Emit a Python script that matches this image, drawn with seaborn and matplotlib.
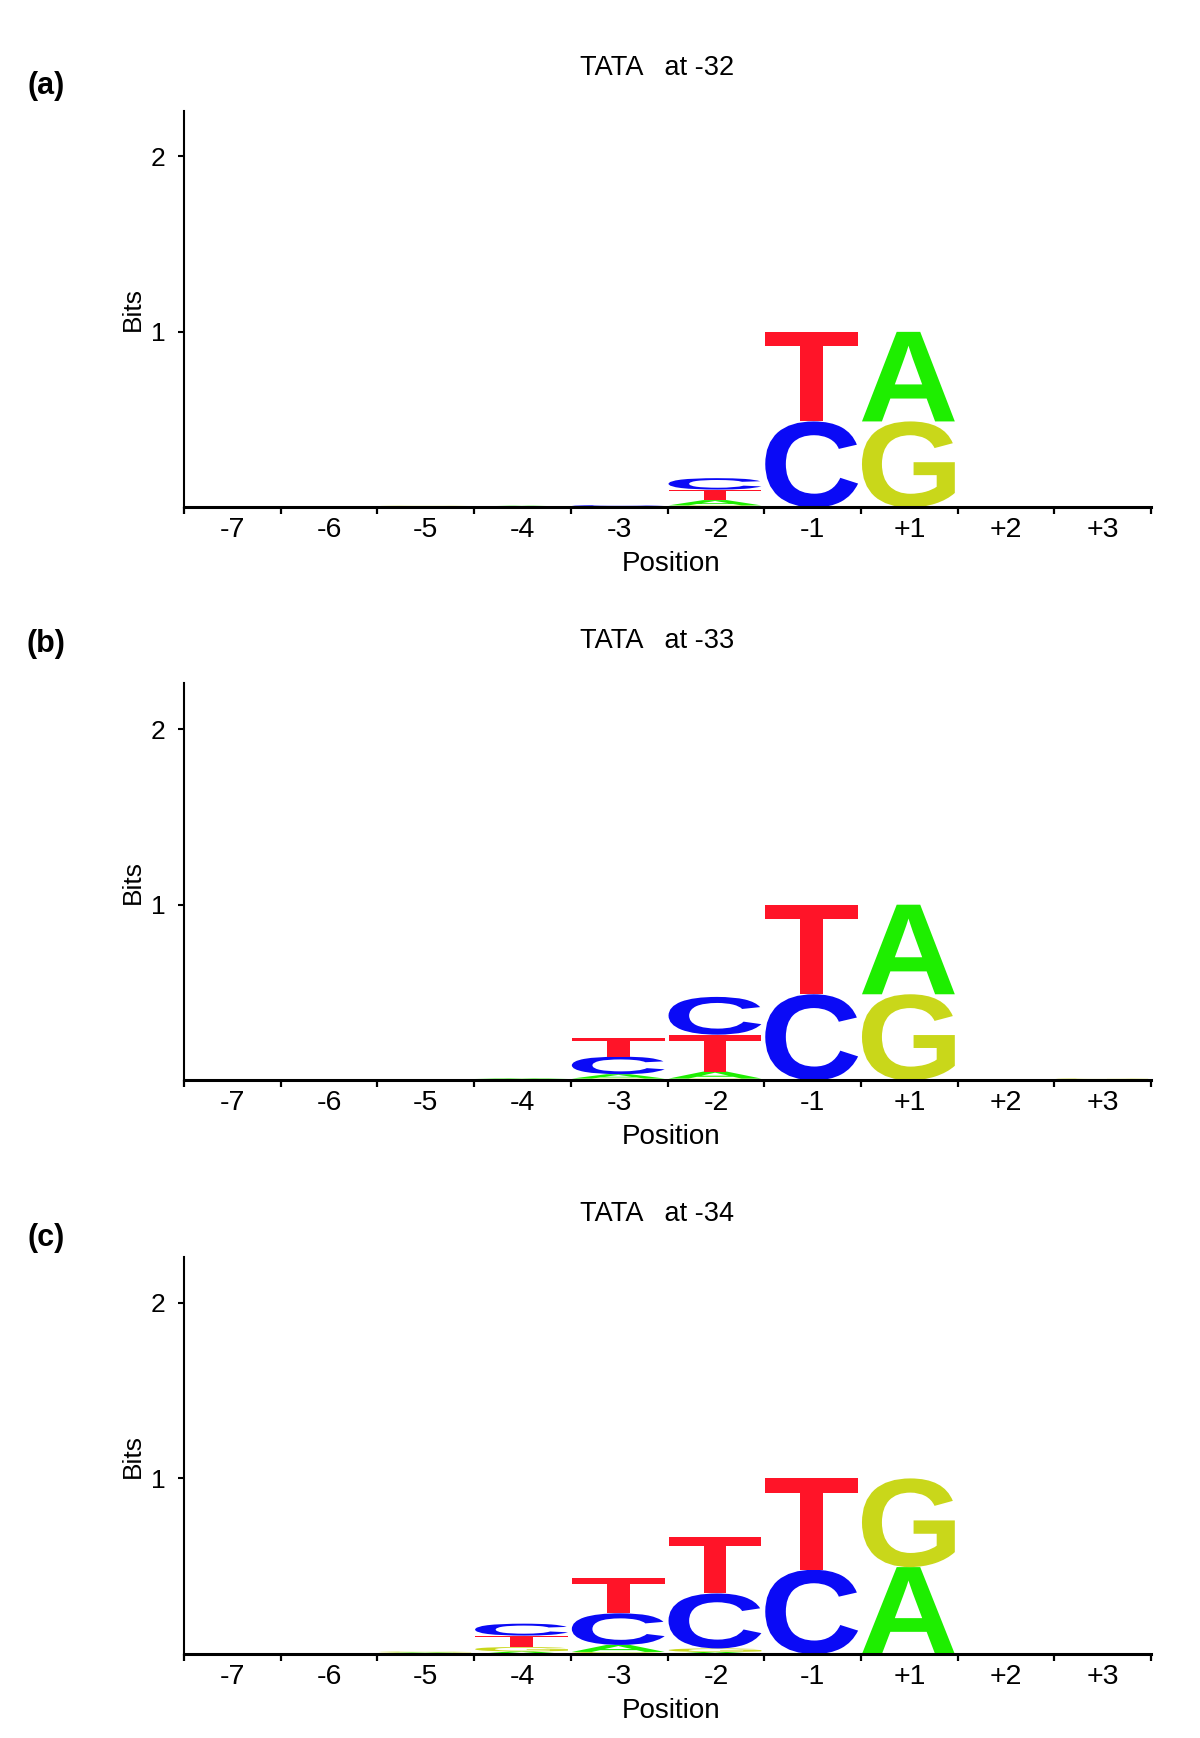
import numpy as np
import pandas as pd
import matplotlib
matplotlib.use("Agg")
import matplotlib.pyplot as plt
import seaborn as sns
from matplotlib.textpath import TextPath
from matplotlib.patches import PathPatch
from matplotlib.font_manager import FontProperties
from matplotlib.transforms import Affine2D

# positions along the promoter
positions = ["-7", "-6", "-5", "-4", "-3", "-2", "-1", "+1", "+2", "+3"]
titles = ["TATA   at -32", "TATA   at -33", "TATA   at -34"]
tags = ["(a)", "(b)", "(c)"]

# bits per base, panel (a)
a_A = [0.002, 0.002, 0.002, 0.004, 0.004, 0.030, 0.000, 0.510, 0.002, 0.002]
a_C = [0.002, 0.002, 0.002, 0.002, 0.005, 0.065, 0.490, 0.000, 0.002, 0.002]
a_G = [0.002, 0.002, 0.004, 0.002, 0.002, 0.012, 0.000, 0.490, 0.002, 0.002]
a_T = [0.002, 0.002, 0.002, 0.002, 0.002, 0.060, 0.510, 0.000, 0.002, 0.002]

# panel (b)
b_A = [0.002, 0.002, 0.002, 0.004, 0.025, 0.040, 0.000, 0.510, 0.002, 0.003]
b_C = [0.002, 0.002, 0.002, 0.003, 0.100, 0.215, 0.490, 0.000, 0.002, 0.002]
b_G = [0.002, 0.002, 0.002, 0.003, 0.010, 0.010, 0.000, 0.490, 0.002, 0.003]
b_T = [0.002, 0.002, 0.002, 0.002, 0.105, 0.210, 0.510, 0.000, 0.002, 0.002]

# panel (c)
c_A = [0.002, 0.002, 0.004, 0.015, 0.040, 0.012, 0.000, 0.495, 0.002, 0.002]
c_C = [0.002, 0.002, 0.003, 0.068, 0.180, 0.313, 0.480, 0.000, 0.002, 0.002]
c_G = [0.002, 0.002, 0.005, 0.025, 0.012, 0.020, 0.000, 0.505, 0.002, 0.002]
c_T = [0.002, 0.002, 0.002, 0.065, 0.200, 0.323, 0.520, 0.000, 0.002, 0.002]

panels = [
    pd.DataFrame({"A": a_A, "C": a_C, "G": a_G, "T": a_T}, index=positions),
    pd.DataFrame({"A": b_A, "C": b_C, "G": b_G, "T": b_T}, index=positions),
    pd.DataFrame({"A": c_A, "C": c_C, "G": c_G, "T": c_T}, index=positions),
]

colors = {"A": "#1EEE00", "C": "#0A0AF6", "G": "#C9D71A", "T": "#FF1428"}

sns.set_style("ticks", {"axes.edgecolor": "black", "xtick.color": "black",
                        "ytick.color": "black", "text.color": "black",
                        "axes.labelcolor": "black"})
plt.rcParams["font.family"] = ["Liberation Sans", "DejaVu Sans"]

letter_font = FontProperties(family="Liberation Sans", weight="bold")


def draw_letter(ax, ch, x, y, w, h):
    tp = TextPath((0, 0), ch, size=1, prop=letter_font)
    bb = tp.get_extents()
    tr = Affine2D().translate(-bb.x0, -bb.y0).scale(w / bb.width, h / bb.height).translate(x, y)
    ax.add_patch(PathPatch(tr.transform_path(tp), fc=colors[ch], lw=0))


fig = plt.figure(figsize=(12, 17.38), dpi=100)

bottoms = [0.708, 0.3784, 0.0483]
tag_y = [86, 644, 1238]

for k, df in enumerate(panels):
    ax = fig.add_axes([0.1533, bottoms[k], 0.806, 0.2284])
    for i, pos in enumerate(df.index):
        y0 = 0.0
        for ch, h in df.loc[pos].sort_values().items():
            if h > 0:
                draw_letter(ax, ch, i + 0.01, y0, 0.96, h)
            y0 += h

    ax.set_xlim(0, 10)
    ax.set_ylim(0, 2.26)
    sns.despine(ax=ax)
    ax.spines["left"].set_linewidth(1.5)
    ax.spines["bottom"].set_linewidth(2.2)

    ax.set_xticks(range(11))
    ax.set_xticklabels([])
    ax.set_xticks(np.arange(10) + 0.5, minor=True)
    ax.set_xticklabels(positions, minor=True)
    ax.tick_params(axis="x", which="major", length=5, width=1.6, direction="out")
    ax.tick_params(axis="x", which="minor", length=0, pad=7, labelsize=20.5)
    ax.set_yticks([1, 2])
    ax.tick_params(axis="y", length=4.5, width=1.5, pad=9, labelsize=19)

    ax.set_xlabel("Position", fontsize=20)
    ax.xaxis.set_label_coords(0.504, -0.143)
    ax.xaxis.label.set_va("center")
    ax.set_ylabel("Bits", fontsize=19)
    ax.yaxis.set_label_coords(-0.053, 0.5)
    ax.yaxis.label.set_va("center")

    ax.text(0.489, 1.1075, titles[k], transform=ax.transAxes,
            ha="center", va="center", fontsize=19.5)
    fig.text(46 / 1200, 1 - tag_y[k] / 1738, tags[k], ha="center", va="center",
             fontsize=22, fontweight="bold")

fig.savefig("out.png", dpi=100)
